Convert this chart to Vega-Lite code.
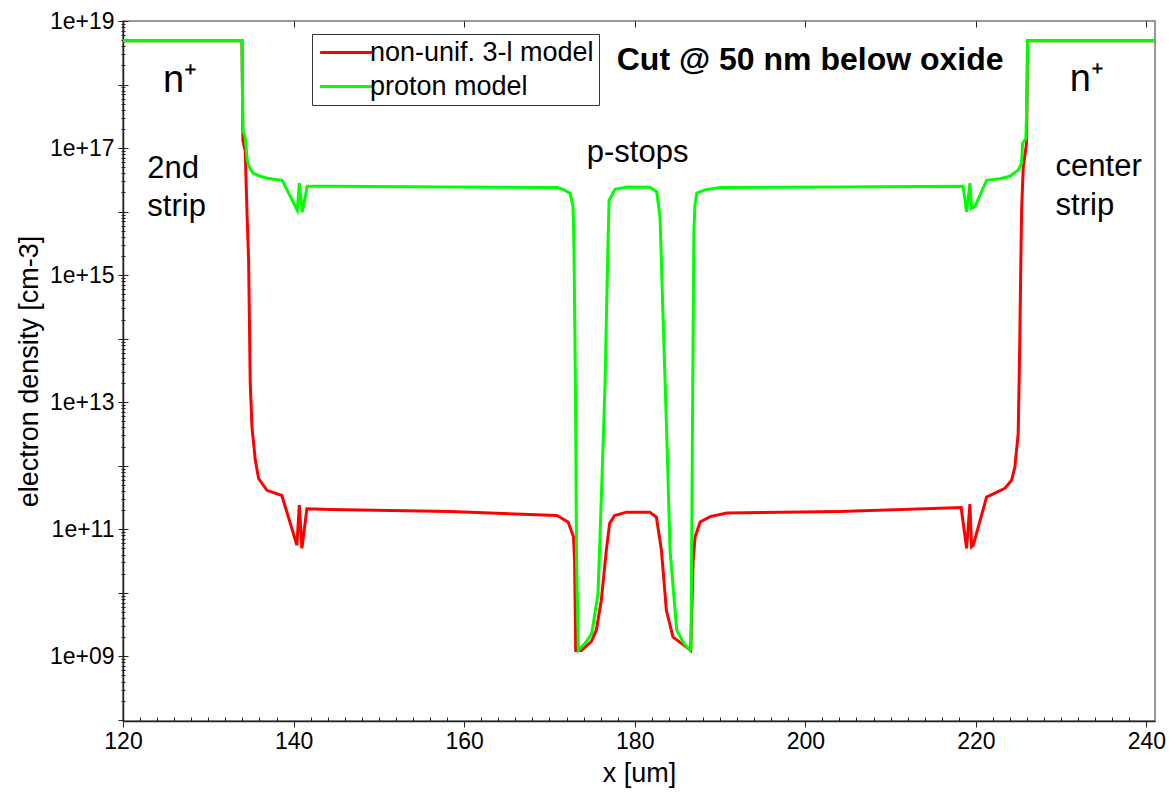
{
  "$schema": "https://vega.github.io/schema/vega-lite/v6.json",
  "autosize": {"type": "none"},
  "padding": {"left": 123, "top": 21, "right": 14, "bottom": 75},
  "width": 1032,
  "height": 700,
  "background": "white",
  "config": {
    "font": "Liberation Sans",
    "view": {"stroke": "#777", "strokeWidth": 1.5},
    "axis": {"grid": false, "labelFont": "Liberation Sans", "titleFont": "Liberation Sans", "domainColor": "#222", "domainWidth": 1.5, "tickColor": "#222", "tickWidth": 1, "labelColor": "black", "titleColor": "black", "titleFontWeight": "normal"}
  },
  "datasets": {
    "curves": [
      {"model": "non-unif. 3-l model", "x": 120, "n": 4.9e18},
      {"model": "non-unif. 3-l model", "x": 133.95, "n": 4.9e18},
      {"model": "non-unif. 3-l model", "x": 134.06, "n": 1.3e17},
      {"model": "non-unif. 3-l model", "x": 134.33, "n": 9.1e16},
      {"model": "non-unif. 3-l model", "x": 134.53, "n": 1.05e16},
      {"model": "non-unif. 3-l model", "x": 134.73, "n": 1.7e15},
      {"model": "non-unif. 3-l model", "x": 134.92, "n": 2.0e13},
      {"model": "non-unif. 3-l model", "x": 135.12, "n": 4.1e12},
      {"model": "non-unif. 3-l model", "x": 135.51, "n": 1.23e12},
      {"model": "non-unif. 3-l model", "x": 135.90, "n": 6.3e11},
      {"model": "non-unif. 3-l model", "x": 136.87, "n": 4.1e11},
      {"model": "non-unif. 3-l model", "x": 138.63, "n": 3.4e11},
      {"model": "non-unif. 3-l model", "x": 140.39, "n": 5.6e10},
      {"model": "non-unif. 3-l model", "x": 140.67, "n": 2.4e11},
      {"model": "non-unif. 3-l model", "x": 140.98, "n": 5.0e10},
      {"model": "non-unif. 3-l model", "x": 141.56, "n": 2.1e11},
      {"model": "non-unif. 3-l model", "x": 144.3, "n": 2.05e11},
      {"model": "non-unif. 3-l model", "x": 158.4, "n": 1.9e11},
      {"model": "non-unif. 3-l model", "x": 170.86, "n": 1.65e11},
      {"model": "non-unif. 3-l model", "x": 172.19, "n": 1.3e11},
      {"model": "non-unif. 3-l model", "x": 172.82, "n": 7.6e10},
      {"model": "non-unif. 3-l model", "x": 172.95, "n": 3.2e10},
      {"model": "non-unif. 3-l model", "x": 173.08, "n": 1.24e9},
      {"model": "non-unif. 3-l model", "x": 173.74, "n": 1.24e9},
      {"model": "non-unif. 3-l model", "x": 174.91, "n": 1.7e9},
      {"model": "non-unif. 3-l model", "x": 175.50, "n": 2.6e9},
      {"model": "non-unif. 3-l model", "x": 176.08, "n": 7.6e9},
      {"model": "non-unif. 3-l model", "x": 176.67, "n": 4.7e10},
      {"model": "non-unif. 3-l model", "x": 177.06, "n": 1.24e11},
      {"model": "non-unif. 3-l model", "x": 177.65, "n": 1.65e11},
      {"model": "non-unif. 3-l model", "x": 179.02, "n": 1.86e11},
      {"model": "non-unif. 3-l model", "x": 181.76, "n": 1.86e11},
      {"model": "non-unif. 3-l model", "x": 182.54, "n": 1.55e11},
      {"model": "non-unif. 3-l model", "x": 183.13, "n": 4.7e10},
      {"model": "non-unif. 3-l model", "x": 183.71, "n": 5.3e9},
      {"model": "non-unif. 3-l model", "x": 184.49, "n": 2.0e9},
      {"model": "non-unif. 3-l model", "x": 186.06, "n": 1.4e9},
      {"model": "non-unif. 3-l model", "x": 186.56, "n": 1.24e9},
      {"model": "non-unif. 3-l model", "x": 186.85, "n": 3.2e10},
      {"model": "non-unif. 3-l model", "x": 187.08, "n": 7.6e10},
      {"model": "non-unif. 3-l model", "x": 187.67, "n": 1.3e11},
      {"model": "non-unif. 3-l model", "x": 188.84, "n": 1.58e11},
      {"model": "non-unif. 3-l model", "x": 190.8, "n": 1.8e11},
      {"model": "non-unif. 3-l model", "x": 204.0, "n": 1.9e11},
      {"model": "non-unif. 3-l model", "x": 218.27, "n": 2.2e11},
      {"model": "non-unif. 3-l model", "x": 218.91, "n": 5.0e10},
      {"model": "non-unif. 3-l model", "x": 219.30, "n": 2.5e11},
      {"model": "non-unif. 3-l model", "x": 219.50, "n": 5.3e10},
      {"model": "non-unif. 3-l model", "x": 219.69, "n": 5.6e10},
      {"model": "non-unif. 3-l model", "x": 221.25, "n": 3.2e11},
      {"model": "non-unif. 3-l model", "x": 223.40, "n": 4.4e11},
      {"model": "non-unif. 3-l model", "x": 224.18, "n": 5.9e11},
      {"model": "non-unif. 3-l model", "x": 224.57, "n": 9.5e11},
      {"model": "non-unif. 3-l model", "x": 224.96, "n": 3.2e12},
      {"model": "non-unif. 3-l model", "x": 225.15, "n": 9.4e13},
      {"model": "non-unif. 3-l model", "x": 225.27, "n": 1.7e15},
      {"model": "non-unif. 3-l model", "x": 225.36, "n": 1.05e16},
      {"model": "non-unif. 3-l model", "x": 225.55, "n": 5.0e16},
      {"model": "non-unif. 3-l model", "x": 225.94, "n": 1.18e17},
      {"model": "non-unif. 3-l model", "x": 226.06, "n": 4.9e18},
      {"model": "non-unif. 3-l model", "x": 241, "n": 4.9e18},
      {"model": "proton model", "x": 120, "n": 4.9e18},
      {"model": "proton model", "x": 133.95, "n": 4.9e18},
      {"model": "proton model", "x": 134.06, "n": 1.9e17},
      {"model": "proton model", "x": 134.33, "n": 1.48e17},
      {"model": "proton model", "x": 134.41, "n": 1.1e17},
      {"model": "proton model", "x": 134.57, "n": 6.4e16},
      {"model": "proton model", "x": 134.80, "n": 5.0e16},
      {"model": "proton model", "x": 135.27, "n": 4.0e16},
      {"model": "proton model", "x": 136.09, "n": 3.6e16},
      {"model": "proton model", "x": 136.91, "n": 3.35e16},
      {"model": "proton model", "x": 138.67, "n": 3.1e16},
      {"model": "proton model", "x": 140.43, "n": 1.05e16},
      {"model": "proton model", "x": 140.67, "n": 2.8e16},
      {"model": "proton model", "x": 141.02, "n": 9.8e15},
      {"model": "proton model", "x": 141.60, "n": 2.5e16},
      {"model": "proton model", "x": 144.3, "n": 2.5e16},
      {"model": "proton model", "x": 158.4, "n": 2.45e16},
      {"model": "proton model", "x": 170.90, "n": 2.39e16},
      {"model": "proton model", "x": 171.60, "n": 2.24e16},
      {"model": "proton model", "x": 172.42, "n": 1.94e16},
      {"model": "proton model", "x": 172.77, "n": 1.17e16},
      {"model": "proton model", "x": 172.88, "n": 2.46e15},
      {"model": "proton model", "x": 173.06, "n": 1.07e13},
      {"model": "proton model", "x": 173.18, "n": 3.24e10},
      {"model": "proton model", "x": 173.39, "n": 1.24e9},
      {"model": "proton model", "x": 174.18, "n": 1.6e9},
      {"model": "proton model", "x": 174.96, "n": 2.3e9},
      {"model": "proton model", "x": 175.70, "n": 9.8e9},
      {"model": "proton model", "x": 176.14, "n": 5.3e11},
      {"model": "proton model", "x": 176.52, "n": 2.0e13},
      {"model": "proton model", "x": 176.76, "n": 7.4e14},
      {"model": "proton model", "x": 176.99, "n": 1.5e16},
      {"model": "proton model", "x": 177.69, "n": 2.24e16},
      {"model": "proton model", "x": 179.06, "n": 2.44e16},
      {"model": "proton model", "x": 181.80, "n": 2.42e16},
      {"model": "proton model", "x": 182.58, "n": 2.04e16},
      {"model": "proton model", "x": 182.97, "n": 8.1e15},
      {"model": "proton model", "x": 183.32, "n": 2.2e14},
      {"model": "proton model", "x": 183.75, "n": 3.2e12},
      {"model": "proton model", "x": 184.14, "n": 4.7e10},
      {"model": "proton model", "x": 184.92, "n": 2.6e9},
      {"model": "proton model", "x": 185.78, "n": 1.6e9},
      {"model": "proton model", "x": 186.49, "n": 1.24e9},
      {"model": "proton model", "x": 186.60, "n": 1.3e9},
      {"model": "proton model", "x": 186.71, "n": 2.8e11},
      {"model": "proton model", "x": 186.83, "n": 6.5e13},
      {"model": "proton model", "x": 186.94, "n": 5.1e15},
      {"model": "proton model", "x": 187.06, "n": 1.26e16},
      {"model": "proton model", "x": 187.27, "n": 1.95e16},
      {"model": "proton model", "x": 188.24, "n": 2.2e16},
      {"model": "proton model", "x": 190.0, "n": 2.4e16},
      {"model": "proton model", "x": 204.06, "n": 2.45e16},
      {"model": "proton model", "x": 218.5, "n": 2.5e16},
      {"model": "proton model", "x": 218.91, "n": 9.8e15},
      {"model": "proton model", "x": 219.30, "n": 2.8e16},
      {"model": "proton model", "x": 219.50, "n": 1.12e16},
      {"model": "proton model", "x": 219.88, "n": 1.2e16},
      {"model": "proton model", "x": 221.25, "n": 3.1e16},
      {"model": "proton model", "x": 222.81, "n": 3.3e16},
      {"model": "proton model", "x": 223.98, "n": 3.6e16},
      {"model": "proton model", "x": 224.96, "n": 4.5e16},
      {"model": "proton model", "x": 225.36, "n": 5.8e16},
      {"model": "proton model", "x": 225.47, "n": 1.18e17},
      {"model": "proton model", "x": 225.86, "n": 1.41e17},
      {"model": "proton model", "x": 225.98, "n": 5.6e17},
      {"model": "proton model", "x": 226.06, "n": 4.9e18},
      {"model": "proton model", "x": 241, "n": 4.9e18}
    ]
  },
  "layer": [
    {
      "data": {"name": "curves"},
      "mark": {"type": "line", "strokeWidth": 3, "interpolate": "linear"},
      "encoding": {
        "x": {"field": "x", "type": "quantitative",
          "scale": {"domain": [120, 241], "nice": false, "zero": false},
          "axis": {"values": [120, 140, 160, 180, 200, 220, 240], "tickSize": 6, "labelFontSize": 23, "labelPadding": 3, "title": "x [um]", "titleFontSize": 27, "titlePadding": 7, "labelFlush": false}},
        "y": {"field": "n", "type": "quantitative",
          "scale": {"type": "log", "domain": [9.6e7, 1e19], "nice": false},
          "axis": {"values": [1e8, 1e9, 1e10, 1e11, 1e12, 1e13, 1e14, 1e15, 1e16, 1e17, 1e18, 1e19], "tickSize": 5, "labelFontSize": 23, "labelPadding": 4,
            "labelExpr": "(round(log(datum.value)/LN10) % 2 == 1) ? ('1e+' + (round(log(datum.value)/LN10) < 10 ? '0' : '') + round(log(datum.value)/LN10)) : ''",
            "title": "electron density [cm-3]", "titleFontSize": 27, "titlePadding": 6}},
        "color": {"field": "model", "type": "nominal",
          "scale": {"domain": ["non-unif. 3-l model", "proton model"], "range": ["#ff0000", "#00ff00"]},
          "legend": {"orient": "none", "legendX": 189, "legendY": 13, "title": null, "symbolType": "M-1,0H4", "symbolSize": 432, "symbolStrokeWidth": 3, "symbolFillColor": "transparent", "labelFontSize": 27, "labelFont": "Liberation Sans", "labelColor": "black", "labelLimit": 0, "strokeColor": "#333", "fillColor": "white", "padding": 5, "labelOffset": 26, "rowPadding": 6}}
      }
    },
    {
      "data": {"name": "curves"},
      "mark": {"type": "point", "opacity": 0},
      "encoding": {
        "x": {"field": "x", "type": "quantitative", "scale": {"domain": [120, 241], "nice": false, "zero": false},
          "axis": {"values": [140, 160, 180, 200, 220, 240], "tickSize": -6, "labels": false, "domain": false, "title": null}},
        "y": {"field": "n", "type": "quantitative", "scale": {"type": "log", "domain": [9.6e7, 1e19], "nice": false},
          "axis": {"orient": "left", "values": [1e9, 1e10, 1e11, 1e12, 1e13, 1e14, 1e15, 1e16, 1e17, 1e18, 1e19], "tickSize": -5, "labels": false, "domain": false, "title": null}}
      }
    },
    {
      "data": {"name": "curves"},
      "mark": {"type": "point", "opacity": 0},
      "encoding": {
        "x": {"field": "x", "type": "quantitative", "scale": {"domain": [120, 241], "nice": false, "zero": false},
          "axis": {"orient": "bottom", "values": [122, 124, 126, 128, 130, 132, 134, 136, 138, 142, 144, 146, 148, 150, 152, 154, 156, 158, 162, 164, 166, 168, 170, 172, 174, 176, 178, 182, 184, 186, 188, 190, 192, 194, 196, 198, 202, 204, 206, 208, 210, 212, 214, 216, 218, 222, 224, 226, 228, 230, 232, 234, 236, 238], "tickSize": -4, "labels": false, "domain": false, "title": null}},
        "y": {"field": "n", "type": "quantitative", "scale": {"type": "log", "domain": [9.6e7, 1e19], "nice": false},
          "axis": {"orient": "left", "values": [2e8, 3e8, 4e8, 5e8, 6e8, 7e8, 8e8, 9e8, 2e9, 3e9, 4e9, 5e9, 6e9, 7e9, 8e9, 9e9, 2e10, 3e10, 4e10, 5e10, 6e10, 7e10, 8e10, 9e10, 2e11, 3e11, 4e11, 5e11, 6e11, 7e11, 8e11, 9e11, 2e12, 3e12, 4e12, 5e12, 6e12, 7e12, 8e12, 9e12, 2e13, 3e13, 4e13, 5e13, 6e13, 7e13, 8e13, 9e13, 2e14, 3e14, 4e14, 5e14, 6e14, 7e14, 8e14, 9e14, 2e15, 3e15, 4e15, 5e15, 6e15, 7e15, 8e15, 9e15, 2e16, 3e16, 4e16, 5e16, 6e16, 7e16, 8e16, 9e16, 2e17, 3e17, 4e17, 5e17, 6e17, 7e17, 8e17, 9e17, 2e18, 3e18, 4e18, 5e18, 6e18, 7e18, 8e18, 9e18], "tickSize": 2, "labels": false, "domain": false, "title": null}}
      }
    },
    {
      "data": {"name": "curves"},
      "mark": {"type": "point", "opacity": 0},
      "encoding": {
        "x": {"field": "x", "type": "quantitative", "scale": {"domain": [120, 241], "nice": false, "zero": false}, "axis": null},
        "y": {"field": "n", "type": "quantitative", "scale": {"type": "log", "domain": [9.6e7, 1e19], "nice": false},
          "axis": {"orient": "left", "values": [2e8, 3e8, 4e8, 5e8, 6e8, 7e8, 8e8, 9e8, 2e9, 3e9, 4e9, 5e9, 6e9, 7e9, 8e9, 9e9, 2e10, 3e10, 4e10, 5e10, 6e10, 7e10, 8e10, 9e10, 2e11, 3e11, 4e11, 5e11, 6e11, 7e11, 8e11, 9e11, 2e12, 3e12, 4e12, 5e12, 6e12, 7e12, 8e12, 9e12, 2e13, 3e13, 4e13, 5e13, 6e13, 7e13, 8e13, 9e13, 2e14, 3e14, 4e14, 5e14, 6e14, 7e14, 8e14, 9e14, 2e15, 3e15, 4e15, 5e15, 6e15, 7e15, 8e15, 9e15, 2e16, 3e16, 4e16, 5e16, 6e16, 7e16, 8e16, 9e16, 2e17, 3e17, 4e17, 5e17, 6e17, 7e17, 8e17, 9e17, 2e18, 3e18, 4e18, 5e18, 6e18, 7e18, 8e18, 9e18], "tickSize": -2, "labels": false, "domain": false, "title": null}}
      }
    },
    {
      "data": {"values": [
        {"label": "2nd", "x": 122.85, "n": 3.38e16},
        {"label": "strip", "x": 122.85, "n": 8.5e15},
        {"label": "center", "x": 229.34, "n": 3.6e16},
        {"label": "strip", "x": 229.34, "n": 8.8e15}
      ]},
      "mark": {"type": "text", "align": "left", "baseline": "alphabetic", "fontSize": 31, "font": "Liberation Sans", "color": "black"},
      "encoding": {
        "x": {"field": "x", "type": "quantitative", "scale": {"domain": [120, 241], "nice": false, "zero": false}, "axis": null},
        "y": {"field": "n", "type": "quantitative", "scale": {"type": "log", "domain": [9.6e7, 1e19], "nice": false}, "axis": null},
        "text": {"field": "label"}
      }
    },
    {
      "data": {"values": [
        {"label": "p-stops", "x": 180.33, "n": 6.08e16}
      ]},
      "mark": {"type": "text", "align": "center", "baseline": "alphabetic", "fontSize": 31, "font": "Liberation Sans", "color": "black"},
      "encoding": {
        "x": {"field": "x", "type": "quantitative", "scale": {"domain": [120, 241], "nice": false, "zero": false}, "axis": null},
        "y": {"field": "n", "type": "quantitative", "scale": {"type": "log", "domain": [9.6e7, 1e19], "nice": false}, "axis": null},
        "text": {"field": "label"}
      }
    },
    {
      "data": {"values": [
        {"label": "n⁺", "x": 126.7, "n": 7.55e17},
        {"label": "n⁺", "x": 233.0, "n": 7.8e17}
      ]},
      "mark": {"type": "text", "align": "center", "baseline": "alphabetic", "fontSize": 38, "font": "Liberation Sans", "color": "black"},
      "encoding": {
        "x": {"field": "x", "type": "quantitative", "scale": {"domain": [120, 241], "nice": false, "zero": false}, "axis": null},
        "y": {"field": "n", "type": "quantitative", "scale": {"type": "log", "domain": [9.6e7, 1e19], "nice": false}, "axis": null},
        "text": {"field": "label"}
      }
    },
    {
      "data": {"values": [
        {"label": "Cut @ 50 nm below oxide", "x": 177.89, "n": 1.67e18}
      ]},
      "mark": {"type": "text", "align": "left", "baseline": "alphabetic", "fontSize": 32, "fontWeight": "bold", "font": "Liberation Sans", "color": "black"},
      "encoding": {
        "x": {"field": "x", "type": "quantitative", "scale": {"domain": [120, 241], "nice": false, "zero": false}, "axis": null},
        "y": {"field": "n", "type": "quantitative", "scale": {"type": "log", "domain": [9.6e7, 1e19], "nice": false}, "axis": null},
        "text": {"field": "label"}
      }
    }
  ],
  "resolve": {"axis": {"x": "independent", "y": "independent"}}
}
